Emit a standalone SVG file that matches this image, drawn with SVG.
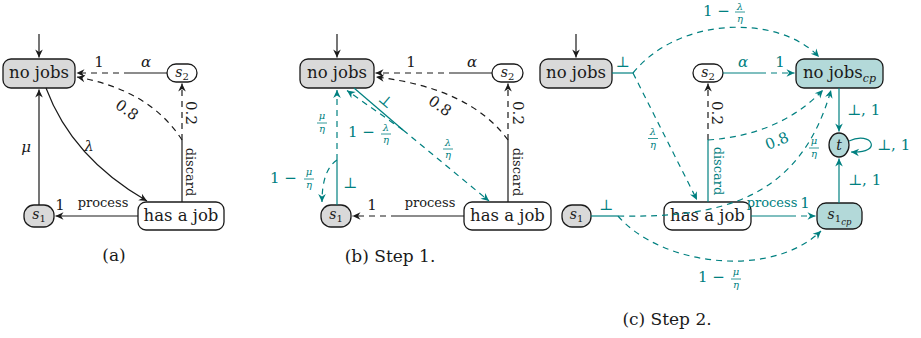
<svg xmlns="http://www.w3.org/2000/svg" width="921" height="338" viewBox="0 0 921 338">
<style>
text{font-family:"DejaVu Serif",serif;fill:#1a1a1a}
.n{stroke:#1a1a1a;stroke-width:1.3}
.gray{fill:#d9d9d9}.white{fill:#fff}.cp{fill:#b3d9d9}
.nt{font-size:16.5px;text-anchor:middle}
.st{font-size:14px;text-anchor:middle}
.e{fill:none;stroke:#1a1a1a;stroke-width:1.2}
.tl{stroke:#008080}
.d{stroke-dasharray:6 5}
.ab{marker-end:url(#ab)}.at{marker-end:url(#at)}
.l{font-size:15px}
.sm{font-size:13px}
.fr{font-size:10px;text-anchor:middle;font-style:italic}
.i{font-style:italic}
.tc{fill:#008080}
.c{text-anchor:middle}
.cap{font-size:17px;text-anchor:middle}
.bar{stroke:#008080;stroke-width:0.8}
</style>
<defs>
<marker id="ab" markerUnits="userSpaceOnUse" orient="auto" overflow="visible" markerWidth="10" markerHeight="10" refX="0" refY="0"><path d="M0,0 L-8,-3.8 L-5.5,0 L-8,3.8 Z" fill="#1a1a1a" stroke="none"/></marker>
<marker id="at" markerUnits="userSpaceOnUse" orient="auto" overflow="visible" markerWidth="10" markerHeight="10" refX="0" refY="0"><path d="M0,0 L-8,-3.8 L-5.5,0 L-8,3.8 Z" fill="#008080" stroke="none"/></marker>
</defs>

<!-- Panel (a) nodes -->
<g id="a-nojobs"><rect x="3" y="59" width="72" height="29" rx="8" class="n gray"/><text x="39" y="78" class="nt">no jobs</text></g>
<g id="a-s2"><rect x="167" y="64" width="30" height="18" rx="9" class="n white"/><text x="182" y="77" class="st"><tspan class="i">s</tspan><tspan font-size="10" dy="3">2</tspan></text></g>
<g id="a-hasjob"><rect x="138" y="202" width="86" height="28" rx="8" class="n white"/><text x="181" y="221" class="nt">has a job</text></g>
<g id="a-s1"><rect x="24" y="205" width="30" height="22" rx="10" class="n gray"/><text x="39" y="219" class="st"><tspan class="i">s</tspan><tspan font-size="10" dy="3">1</tspan></text></g>

<!-- Panel (b) nodes -->
<g id="b-nojobs"><rect x="300" y="59" width="74" height="29" rx="8" class="n gray"/><text x="337" y="78" class="nt">no jobs</text></g>
<g id="b-s2"><rect x="492" y="64" width="31" height="18" rx="9" class="n white"/><text x="507.5" y="77" class="st"><tspan class="i">s</tspan><tspan font-size="10" dy="3">2</tspan></text></g>
<g id="b-hasjob"><rect x="464" y="202" width="87" height="28" rx="8" class="n white"/><text x="507.5" y="221" class="nt">has a job</text></g>
<g id="b-s1"><rect x="321" y="205" width="30" height="22" rx="10" class="n gray"/><text x="336" y="219" class="st"><tspan class="i">s</tspan><tspan font-size="10" dy="3">1</tspan></text></g>

<!-- Panel (c) nodes -->
<g id="c-nojobs"><rect x="540" y="59" width="72" height="29" rx="8" class="n gray"/><text x="576" y="78" class="nt">no jobs</text></g>
<g id="c-s2"><rect x="693" y="64" width="30" height="18" rx="9" class="n white"/><text x="708" y="77" class="st"><tspan class="i">s</tspan><tspan font-size="10" dy="3">2</tspan></text></g>
<g id="c-nojobscp"><rect x="796" y="59" width="87" height="29" rx="8" class="n cp"/><text x="839.5" y="78" class="nt">no jobs<tspan class="i" font-size="11" dy="4">cp</tspan></text></g>
<g id="c-t"><ellipse cx="839" cy="145" rx="10" ry="12" class="n cp"/><text x="839" y="150" class="st i">t</text></g>
<g id="c-s1cp"><rect x="817" y="203" width="45" height="26" rx="9" class="n cp"/><text x="839.5" y="219" class="st"><tspan class="i">s</tspan><tspan font-size="10" dy="3">1</tspan><tspan class="i" font-size="8.5" dy="3">cp</tspan></text></g>
<g id="c-hasjob"><rect x="664" y="202" width="87" height="28" rx="8" class="n white"/><text x="707.5" y="221" class="nt">has a job</text></g>
<g id="c-s1"><rect x="562" y="205" width="29" height="22" rx="10" class="n gray"/><text x="576.5" y="219" class="st"><tspan class="i">s</tspan><tspan font-size="10" dy="3">1</tspan></text></g>

<g id="connectors">
<!-- (a) -->
<path class="e ab" d="M39,34 L39,57.5"/>
<path class="e ab" d="M46,88 Q72,158 147,201"/>
<path class="e ab" d="M39,205 L39,89.5"/>
<path class="e ab" d="M138,216 L55.5,216"/>
<path class="e" d="M182,202 L182,140"/>
<path class="e d ab" d="M182,140 L182,83.5"/>
<path class="e d ab" d="M182,140 Q150,90 77,77"/>
<path class="e" d="M167,73 L130,73"/>
<path class="e d ab" d="M130,73 L76.5,73"/>
<!-- (b) -->
<path class="e ab" d="M337,34 L337,57.5"/>
<path class="e" d="M492,73 L455,73"/>
<path class="e d ab" d="M455,73 L375.5,73"/>
<path class="e" d="M508,202 L508,140"/>
<path class="e d ab" d="M508,140 L508,83.5"/>
<path class="e d ab" d="M508,140 Q470,88 376,77"/>
<path class="e" d="M464,216 L397,216"/>
<path class="e d ab" d="M397,216 L352.5,216"/>
<path class="e tl" d="M354,88 L403,130"/>
<path class="e tl d at" d="M403,130 L489,201"/>
<path class="e tl d at" d="M403,130 L347,90.5"/>
<path class="e tl" d="M337,205 L337,160"/>
<path class="e tl d at" d="M337,160 L337,90"/>
<path class="e tl d at" d="M337,160 Q322,170 322,202"/>
<!-- (c) -->
<path class="e ab" d="M576,34 L576,57.5"/>
<path class="e tl" d="M612,73 L633,73"/>
<path class="e tl d at" d="M633,73 C680,15 780,15 819,57"/>
<path class="e tl d at" d="M633,73 L697,200"/>
<path class="e tl" d="M723,73 L760,73"/>
<path class="e tl d at" d="M760,73 L794.5,73"/>
<path class="e tl at" d="M839,88 L839,131.5"/>
<path class="e tl at" d="M849,141 C872,130 884,154 851,152"/>
<path class="e tl at" d="M839,203 L839,158.5"/>
<path class="e tl" d="M751,216 L790,216"/>
<path class="e tl d at" d="M790,216 L815.5,216"/>
<path class="e tl" d="M708,202 L708,140"/>
<path class="e d ab" d="M708,140 L708,83.5"/>
<path class="e tl d at" d="M708,140 Q780,135 823,90"/>
<path class="e tl" d="M591,216 L618,216"/>
<path class="e tl d at" d="M618,216 C720,218 800,200 831,90"/>
<path class="e tl d at" d="M618,216 C660,265 770,280 821,231"/>
</g>

<g id="labels">
<!-- (a) -->
<text x="89" y="151" class="l i c">λ</text>
<text x="26" y="152" class="l i c">μ</text>
<text x="60" y="210" class="l c">1</text>
<text x="103" y="207" class="sm c">process</text>
<text x="99" y="67" class="l c">1</text>
<text x="146" y="67" class="l i c">α</text>
<text class="l c" transform="translate(127,110) rotate(35)" y="5">0.8</text>
<text class="l c" transform="translate(186,113) rotate(90)">0.2</text>
<text class="sm c" transform="translate(186,172) rotate(90)">discard</text>
<!-- (b) -->
<text x="411" y="67" class="l c">1</text>
<text x="472" y="67" class="l i c">α</text>
<text class="l c" transform="translate(440,106) rotate(35)" y="5">0.8</text>
<text class="l c" transform="translate(513,113) rotate(90)">0.2</text>
<text class="sm c" transform="translate(513,172) rotate(90)">discard</text>
<text x="372" y="210" class="l c">1</text>
<text x="430" y="207" class="sm c">process</text>
<text class="l c tc" transform="translate(386,101) rotate(40)" y="5">⊥</text>
<text x="448" y="146" class="fr tc">λ</text><path class="bar" d="M443,149 H453"/><text x="448" y="158" class="fr tc">η</text>
<text x="348" y="137" class="l tc">1 −</text>
<text x="386" y="131" class="fr tc">λ</text><path class="bar" d="M381,134 H391"/><text x="386" y="143" class="fr tc">η</text>
<text x="322" y="119" class="fr tc">μ</text><path class="bar" d="M317,123 H327"/><text x="322" y="132" class="fr tc">η</text>
<text x="270" y="183" class="l tc">1 −</text>
<text x="309" y="175" class="fr tc">μ</text><path class="bar" d="M304,179 H314"/><text x="309" y="188" class="fr tc">η</text>
<text x="350" y="188" class="l c tc">⊥</text>
<!-- (c) -->
<text x="622.5" y="67" class="l c tc">⊥</text>
<text x="606" y="210" class="l c tc">⊥</text>
<text x="703" y="16" class="l tc">1 −</text>
<text x="740" y="9.5" class="fr tc">λ</text><path class="bar" d="M735,12 H745"/><text x="740" y="22" class="fr tc">η</text>
<text x="653" y="135" class="fr tc">λ</text><path class="bar" d="M648,138.5 H658"/><text x="653" y="148" class="fr tc">η</text>
<text x="743" y="67" class="l i c tc">α</text>
<text x="780" y="67" class="l c tc">1</text>
<text class="l c" transform="translate(712,113) rotate(90)">0.2</text>
<text class="sm c tc" transform="translate(714,171) rotate(90)">discard</text>
<text class="l c tc" transform="translate(777,141) rotate(-22)" y="5">0.8</text>
<text x="814" y="144" class="fr tc">μ</text><path class="bar" d="M809,148 H819"/><text x="814" y="157" class="fr tc">η</text>
<text x="847" y="115" class="l tc">⊥, 1</text>
<text x="877" y="150" class="l tc">⊥, 1</text>
<text x="848" y="185" class="l tc">⊥, 1</text>
<text x="772" y="207" class="sm c tc">process</text>
<text x="805" y="208" class="l c tc">1</text>
<text x="698" y="282" class="l tc">1 −</text>
<text x="736" y="275" class="fr tc">μ</text><path class="bar" d="M731,279 H741"/><text x="736" y="288" class="fr tc">η</text>
<!-- captions -->
<text x="114" y="261" class="cap">(a)</text>
<text x="390" y="262" class="cap">(b) Step 1.</text>
<text x="667" y="325" class="cap">(c) Step 2.</text>
</g>
</svg>
